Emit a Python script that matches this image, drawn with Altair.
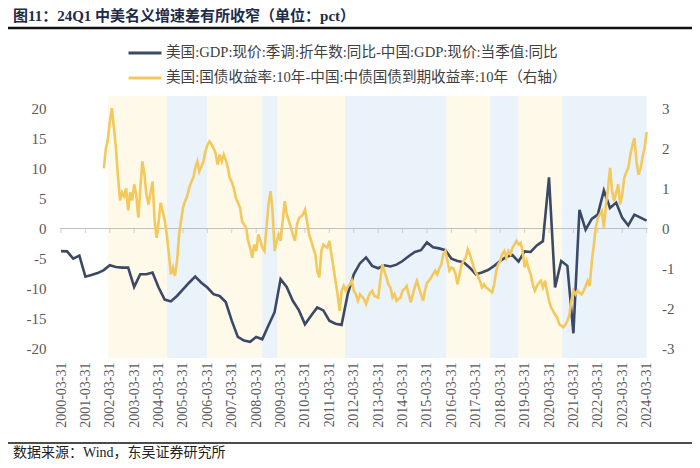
import altair as alt
import pandas as pd

# ---------------- data ----------------
S1 = "美国:GDP:现价:季调:折年数:同比-中国:GDP:现价:当季值:同比"
S2 = "美国:国债收益率:10年-中国:中债国债到期收益率:10年（右轴）"
TITLE = "图11：24Q1 中美名义增速差有所收窄（单位：pct）"
SOURCE = "数据来源：Wind，东吴证券研究所"

# quarterly GDP growth gap (left axis), 2000Q1 .. 2024Q1
gdp_diff = [
    -3.75, -3.8, -5.0, -4.5, -8.0, -7.7, -7.4, -6.9, -6.1, -6.4,
    -6.5, -6.5, -9.7, -7.6, -7.6, -7.3, -9.8, -11.8, -12.1, -11.2,
    -10.1, -9.0, -8.0, -9.0, -9.8, -10.9, -11.2, -12.2, -15.3, -18.0,
    -18.6, -18.8, -18.0, -18.4, -16.1, -13.9, -8.4, -9.7, -12.0, -13.6,
    -15.9, -14.5, -13.1, -13.6, -15.3, -15.8, -16.0, -10.9, -7.6, -5.8,
    -4.8, -6.2, -6.6, -6.1, -6.3, -6.0, -5.4, -4.6, -3.9, -3.6,
    -2.3, -3.1, -3.3, -3.6, -5.0, -5.4, -5.6, -6.5, -7.6, -7.3,
    -6.9, -6.2, -5.4, -4.7, -4.4, -5.5, -3.8, -3.9, -2.8, -2.1,
    8.5, -9.8, -5.4, -6.2, -17.4, 3.1, -0.2, 1.6, 2.3, 6.3,
    3.4, 4.3, 1.8, 0.5, 2.3, 1.8, 1.3,
]

# monthly 10y yield spread (right axis), from 2002-01
yield_diff = [
    # 2002
    1.5, 2.0, 2.2, 2.66, 3.0, 2.5, 2.0, 1.3, 0.7, 0.9, 0.8, 1.0,
    # 2003
    0.45, 0.9, 0.7, 1.1, 0.84, 0.27, 1.0, 1.67, 1.34, 0.84, 0.6, 0.9,
    # 2004
    1.17, 0.18, -0.23, 0.18, 0.64, 0.43, 0.2, -0.15, -0.64, -1.14, -0.97, -1.18,
    # 2005
    -0.81, -0.15, 0.18, 0.52, 0.68, 0.8, 1.01, 1.15, 1.26, 1.51, 1.67, 1.42,
    # 2006
    1.55, 1.67, 1.92, 2.08, 2.17, 2.1, 2.0, 1.88, 1.59, 1.84, 1.67, 1.84,
    # 2007
    1.7, 1.51, 1.26, 1.15, 1.01, 0.76, 0.65, 0.52, 0.18, 0.1, 0.02, -0.31,
    # 2008
    -0.48, -0.73, -0.4, -0.56, -0.15, -0.3, -0.48, -0.56, 0.02, 0.6, 0.93, 0.43,
    # 2009
    -0.56, -0.31, -0.15, -0.31, 0.18, 0.68, 0.35, 0.2, 0.02, -0.15, -0.31, 0.1,
    # 2010
    0.26, 0.3, 0.35, 0.47, 0.18, -0.15, -0.3, -0.48, -0.64, -1.06, -1.22, -0.56,
    # 2011
    -0.4, -0.45, -0.48, -0.31, -0.64, -0.97, -1.3, -1.64, -2.05, -1.55, -1.43, -1.55,
    # 2012
    -1.45, -1.39, -1.3, -1.55, -1.64, -1.8, -1.64, -1.7, -1.76, -1.88, -1.72, -1.6,
    # 2013
    -1.55, -1.68, -1.7, -1.72, -1.3, -0.89, -1.05, -1.22, -1.4, -1.47, -1.72, -1.64,
    # 2014
    -1.8, -1.75, -1.72, -1.55, -1.5, -1.43, -1.64, -1.84, -1.64, -1.45, -1.3, -1.47,
    # 2015
    -1.64, -1.8, -1.55, -1.35, -1.3, -1.22, -1.14, -1.05, -1.14, -1.0, -0.89, -0.64,
    # 2016
    -0.56, -0.81, -1.05, -0.97, -1.0, -1.14, -1.39, -1.14, -0.89, -0.8, -0.73, -0.52,
    # 2017
    -0.64, -0.81, -0.97, -1.1, -1.18, -1.3, -1.47, -1.39, -1.47, -1.5, -1.55, -1.59,
    # 2018
    -1.39, -1.05, -0.9, -0.81, -0.64, -0.56, -0.73, -0.56, -0.64, -0.48, -0.4, -0.31,
    # 2019
    -0.4, -0.36, -0.56, -0.97, -0.81, -1.0, -1.14, -1.39, -1.55, -1.43, -1.35, -1.3,
    # 2020
    -1.47, -1.3, -1.55, -1.8, -1.97, -2.05, -2.15, -2.22, -2.38, -2.42, -2.46, -2.4,
    # 2021
    -2.3, -2.13, -1.8, -1.55, -1.64, -1.55, -1.6, -1.64, -1.55, -1.43, -1.3, -1.43,
    # 2022
    -0.81, -0.4, 0.02, 0.27, 0.35, 0.43, 0.02, 0.6, 1.01, 1.51, 0.93, 0.68,
    # 2023
    0.9, 1.1, 0.6, 0.84, 1.26, 1.4, 1.51, 1.84, 2.08, 2.25, 1.67, 1.34,
    # 2024
    1.5, 1.8, 2.0, 2.4,
]

# shaded background periods
band_start = ["2002-03-01", "2004-08-01", "2006-04-01", "2008-07-01", "2009-02-15",
              "2011-11-20", "2016-01-20", "2017-11-01", "2019-01-01", "2020-10-15"]
band_end = ["2004-08-01", "2006-04-01", "2008-07-01", "2009-02-15", "2011-11-20",
            "2016-01-20", "2017-11-01", "2019-01-01", "2020-10-15", "2024-04-20"]
band_kind = ["a", "b", "a", "b", "a", "b", "a", "b", "a", "b"]

tick_years = list(range(2000, 2025))
left_ticks = [-20, -15, -10, -5, 0, 5, 10, 15, 20]
right_ticks = [-3, -2, -1, 0, 1, 2, 3]

# ---------------- tables ----------------
try:
    q_dates = pd.date_range("2000-03-31", periods=len(gdp_diff), freq="QE")
except Exception:
    q_dates = pd.date_range("2000-03-31", periods=len(gdp_diff), freq="Q")
m_dates = pd.date_range("2002-01-01", periods=len(yield_diff), freq="MS")

gdp_df = pd.DataFrame({"date": q_dates, "v": gdp_diff, "series": S1})
yld_df = pd.DataFrame({"date": m_dates, "v": yield_diff, "series": S2})
band_df = pd.DataFrame({"start": pd.to_datetime(band_start),
                        "end": pd.to_datetime(band_end), "kind": band_kind})
tick_df = pd.DataFrame({"d": [pd.Timestamp(year=y, month=3, day=31) for y in tick_years]})

# ---------------- style ----------------
W, H = 585.6, 262
FONT = "Liberation Serif, Noto Sans CJK SC"
NAVY = "#3B4966"
GOLD = "#F3C95C"
AXIS_GREY = "#BFBFBF"
LABEL_GREY = "#595959"

x_scale = alt.Scale(domain=[alt.DateTime(year=2000, month=3, date=31),
                            alt.DateTime(year=2024, month=3, date=31)])
x_axis = alt.Axis(
    title=None, values=[alt.DateTime(year=y, month=3, date=31) for y in tick_years],
    format="%Y-%m-%d", labelAngle=-90, labelAlign="right", labelBaseline="middle",
    domain=False, ticks=False, grid=False, labelPadding=4, labelOverlap=False,
    labelFont=FONT, labelFontSize=14, labelColor=LABEL_GREY, labelBound=False,
)
yl_scale = alt.Scale(domain=[-21.5, 22], nice=False, zero=False)
yr_scale = alt.Scale(domain=[-3.225, 3.3], nice=False, zero=False)
left_axis = alt.Axis(title=None, values=left_ticks, domain=False, ticks=False, grid=False,
                     labelPadding=15, labelFont=FONT, labelFontSize=15,
                     labelColor=LABEL_GREY, labelExpr="'' + datum.value")
right_axis = alt.Axis(title=None, orient="right", values=right_ticks, domain=False,
                      ticks=False, grid=False, labelPadding=15, labelFont=FONT,
                      labelFontSize=15, labelColor=LABEL_GREY,
                      labelExpr="'' + datum.value")
color_scale = alt.Scale(domain=[S1, S2], range=[NAVY, GOLD])
legend = alt.Legend(
    title=None, orient="none", legendX=66, legendY=-61, direction="vertical",
    symbolType="stroke", symbolSize=1089, symbolStrokeWidth=3, labelOffset=3,
    labelFont=FONT, labelFontSize=14.6, labelColor="#404040", rowPadding=0,
    labelLimit=0,
)

bands = alt.Chart(band_df).mark_rect(clip=True).encode(
    x=alt.X("start:T", scale=x_scale, axis=x_axis),
    x2="end:T",
    y=alt.value(0), y2=alt.value(H),
    fill=alt.Fill("kind:N", scale=alt.Scale(domain=["a", "b"], range=["#FFF9EA", "#EAF2FA"]),
                  legend=None),
)

zero_rule = alt.Chart(pd.DataFrame({"z": [0]})).mark_rule(color=AXIS_GREY, strokeWidth=1).encode(
    y=alt.Y("z:Q", scale=yl_scale, axis=left_axis),
    x=alt.value(-1), x2=alt.value(W + 1),
)
zero_ticks = alt.Chart(tick_df).mark_tick(orient="vertical", size=5, thickness=1,
                                          color=AXIS_GREY, yOffset=2).encode(
    x=alt.X("d:T", scale=x_scale, axis=x_axis),
    y=alt.Y(datum=0, scale=yl_scale, axis=left_axis),
)

gdp_line = alt.Chart(gdp_df).mark_line(strokeWidth=2.6).encode(
    x=alt.X("date:T", scale=x_scale, axis=x_axis),
    y=alt.Y("v:Q", scale=yl_scale, axis=left_axis),
    color=alt.Color("series:N", scale=color_scale, legend=legend),
)
yld_line = alt.Chart(yld_df).mark_line(strokeWidth=2.6).encode(
    x=alt.X("date:T", scale=x_scale, axis=x_axis),
    y=alt.Y("v:Q", scale=yr_scale, axis=right_axis),
    color=alt.Color("series:N", scale=color_scale, legend=legend),
)

one = pd.DataFrame({"t": [TITLE], "s": [SOURCE]})
title_txt = alt.Chart(one).mark_text(align="left", baseline="middle", font=FONT,
                                     fontSize=15, fontWeight="bold", color="#1E2B48").encode(
    x=alt.value(-48), y=alt.value(-80), text="t:N")
title_rule = alt.Chart(one).mark_rule(color="#111111", strokeWidth=2.5).encode(
    x=alt.value(-53), x2=alt.value(631), y=alt.value(-68))
foot_rule = alt.Chart(one).mark_rule(color="#111111", strokeWidth=1.5).encode(
    x=alt.value(-53), x2=alt.value(631), y=alt.value(347))
foot_txt = alt.Chart(one).mark_text(align="left", baseline="middle", font=FONT,
                                    fontSize=14, color="#222222").encode(
    x=alt.value(-48), y=alt.value(357), text="s:N")

left_layer = alt.layer(bands, zero_rule, zero_ticks, gdp_line,
                       title_txt, title_rule, foot_rule, foot_txt)
chart = alt.layer(left_layer, yld_line).resolve_scale(y="independent").properties(
    width=W, height=H,
    padding={"left": 53, "top": 88, "right": 45.4, "bottom": 102},
    autosize=alt.AutoSizeParams(type="none"),
).configure_view(stroke=None)

chart.save("out.html", embed_options={"renderer": "svg", "actions": False})
